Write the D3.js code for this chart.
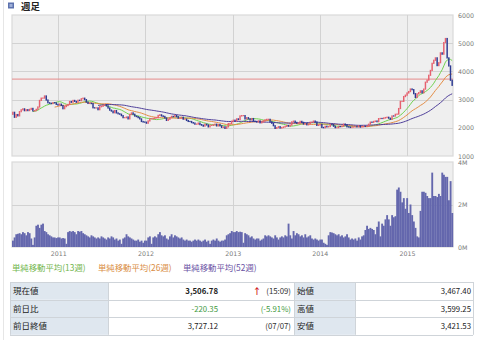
<!DOCTYPE html>
<html><head><meta charset="utf-8">
<script src="https://cdn.jsdelivr.net/npm/d3@7"></script>
<style>
body{margin:0;background:#fff;}
svg{display:block;}
.cjk{font-family:"Noto Sans CJK JP","DejaVu Sans",sans-serif;}
.ax text{font-family:"DejaVu Sans",sans-serif;font-size:6.3px;fill:#7a7a7a;}
</style>
</head><body>
<svg id="c" width="480" height="340"></svg>
<script>
// Weekly closes of the index, one array per calendar year (first bar: week of 2010-06-21)
const firstWeek = "2010-06-21";
const firstOpen = 2480;
const close2010 = [2550,2373,2470,2424,2573,2638,2672,2606,2642,2610,2655,2688,2598,2610,2655,2738,2971,3051,3054,3129,2985,2888,2871,2858,2892,2884,2833,2808];
const close2011 = [2839,2791,2677,2752,2790,2828,2932,2905,2971,2937,2906,2977,2967,3030,3050,2999,2911,2864,2872,2858,2710,2705,2705,2642,2746,2762,2795,2820,2777,2701,2626,2593,2534,2612,2528,2497,2482,2431,2359,2359,2383,2317,2473,2528,2481,2416,2397,2360,2315,2224,2205,2199];
const close2012 = [2163,2244,2319,2319,2330,2351,2357,2439,2460,2421,2404,2349,2262,2302,2359,2406,2396,2438,2394,2344,2350,2373,2306,2306,2260,2225,2224,2185,2168,2128,2132,2168,2114,2092,2059,2127,2102,2033,2086,2086,2105,2128,2067,2117,2069,2015,2032,1980,2033,2150,2153,2234,2269];
const close2013 = [2242,2317,2291,2419,2432,2432,2314,2359,2318,2278,2328,2237,2225,2206,2244,2177,2205,2246,2283,2299,2300,2211,2162,2073,1979,2007,2039,1992,2010,2029,2052,2085,2057,2098,2212,2236,2191,2160,2174,2228,2193,2132,2149,2106,2135,2196,2196,2238,2204,2085,2101,2116];
const close2014 = [2013,2004,2054,2033,2044,2115,2113,2056,2004,2004,2047,2041,2058,2131,2097,2036,2027,2011,2026,2034,2039,2030,2070,2024,2036,2059,2047,2060,2126,2201,2194,2226,2240,2217,2326,2331,2329,2347,2364,2374,2341,2302,2420,2418,2478,2487,2683,2938,2938,3108,3157,3235];
const currentPrice = 3506.78;
const prevClose = 3727.12;
const dayChange = -220.35;
const dayChangePct = -5.91;
const close2015 = [3285,3376,3352,3210,3076,3203,3247,3310,3241,3372,3617,3691,3863,4034,4287,4394,4480,4206,4308,4657,4611,5023,5166,4478,4193,3686,currentPrice];

// Weekly volume (M)
const vol2010 = [0.3,0.45,0.6,0.62,0.65,0.6,0.7,0.65,0.55,0.7,0.65,0.4,0.1,0.45,1.0,1.05,0.9,1.05,1.1,0.75,0.7,0.6,0.55,0.5,0.45,0.45,0.42,0.45];
const vol2011 = [0.45,0.4,0.42,0.4,0.15,0.7,0.75,0.72,0.75,0.7,0.6,0.75,0.72,0.75,0.65,0.6,0.55,0.5,0.45,0.55,0.5,0.45,0.4,0.45,0.4,0.5,0.45,0.4,0.35,0.45,0.4,0.5,0.45,0.35,0.4,0.3,0.35,0.15,0.4,0.45,0.6,0.5,0.45,0.4,0.35,0.3,0.3,0.35,0.25,0.3,0.2,0.3];
const vol2012 = [0.3,0.45,0.5,0.15,0.45,0.5,0.45,0.6,0.7,0.55,0.5,0.55,0.4,0.35,0.5,0.6,0.45,0.55,0.5,0.45,0.4,0.45,0.35,0.3,0.35,0.3,0.3,0.25,0.3,0.35,0.3,0.35,0.3,0.25,0.3,0.35,0.25,0.3,0.15,0.3,0.35,0.3,0.4,0.3,0.25,0.3,0.3,0.35,0.55,0.6,0.65,0.75,0.7];
const vol2013 = [0.7,0.75,0.7,0.72,0.7,0.2,0.65,0.6,0.55,0.45,0.5,0.4,0.35,0.4,0.4,0.3,0.35,0.4,0.55,0.5,0.55,0.5,0.45,0.4,0.55,0.45,0.35,0.45,0.5,0.45,0.55,0.5,1.1,0.55,0.4,0.75,0.55,0.65,0.6,0.5,0.55,0.45,0.6,0.45,0.5,0.55,0.4,0.35,0.4,0.35,0.3,0.35];
const vol2014 = [0.35,0.2,0.15,0.1,0.55,0.7,0.68,0.65,0.6,0.55,0.6,0.5,0.55,0.45,0.5,0.6,0.45,0.35,0.4,0.35,0.4,0.3,0.45,0.35,0.5,0.55,0.8,1.0,0.85,0.9,0.85,0.8,0.6,0.95,1.2,0.5,1.1,1.0,1.3,1.5,1.3,1.0,1.5,1.4,1.45,2.7,2.8,2.6,2.1,2.3,1.8,2.3];
const vol2015 = [1.6,2.0,1.5,1.2,0.9,0.5,0.45,1.7,2.6,2.6,2.55,2.4,2.3,2.3,3.5,2.4,2.4,2.35,2.5,2.4,3.5,3.4,3.3,3.3,2.2,3.1,1.6];

const priceTicks = [1000,2000,3000,4000,5000,6000];
const volumeTicks = [0,2,4];
const yearTicks = ["2011-01-01","2012-01-01","2013-01-01","2014-01-01","2015-01-01"];
const maPeriods = [13,26,52];
const maColors = ["#6fd24f","#e48d45","#4f3f9a"];
const legendLabels = ["単純移動平均(13週)","単純移動平均(26週)","単純移動平均(52週)"];
const legendColors = ["#71b54c","#d98c42","#6a52a4"];

const tableLeftLabels = ["現在値","前日比","前日終値"];
const quoteTime = "15:09";
const prevDate = "07/07";
const tableRightLabels = ["始値","高値","安値"];
const tableRightValues = [3467.40,3599.25,3421.53];

// ---------------------------------------------------------------
const svg = d3.select("#c");
const parse = d3.timeParse("%Y-%m-%d");
const closes = [].concat(close2010,close2011,close2012,close2013,close2014,close2015);
const volumes = [].concat(vol2010,vol2011,vol2012,vol2013,vol2014,vol2015);
const start = parse(firstWeek);
const weeks = closes.map((c,i)=>({
  date: d3.timeDay.offset(start, 7*i),
  next: d3.timeDay.offset(start, 7*(i+1)),
  open: i ? closes[i-1] : firstOpen,
  close: c,
  vol: volumes[i]
}));

const L = 12, R = 453;
const x = d3.scaleTime().domain([start, d3.timeDay.offset(start, 7*weeks.length)]).range([L, R]);
const y = d3.scaleLinear().domain([1000,6000]).range([156,15]);
const yv = d3.scaleLinear().domain([0,4]).range([247,162]);
const years = yearTicks.map(parse);

// page edge
svg.append("line").attr("x1",3.5).attr("x2",3.5).attr("y1",0).attr("y2",340).attr("stroke","#e6e6e6");

// title
const ic = svg.append("g");
ic.append("rect").attr("x",8).attr("y",2.5).attr("width",6).attr("height",6).attr("fill","#5d72ae");
ic.append("rect").attr("x",9.5).attr("y",4).attr("width",3).attr("height",3).attr("fill","#9fb0d8");
svg.append("text").attr("class","cjk").attr("x",21).attr("y",10.2).attr("font-size",9.4).attr("font-weight","bold").attr("fill","#222").text("週足");

function panel(y0,y1){
  svg.append("rect").attr("x",L).attr("y",y0).attr("width",R-L).attr("height",y1-y0)
    .attr("fill","#efefef").attr("stroke","#d9d9d9").attr("stroke-width",1.2);
  svg.append("g").selectAll("line").data(years).join("line")
    .attr("x1",d=>Math.round(x(d))+0.5).attr("x2",d=>Math.round(x(d))+0.5)
    .attr("y1",y0).attr("y2",y1).attr("stroke","#d2d2d2");
}
panel(15,156);
panel(162,247);

svg.append("g").selectAll("line").data(priceTicks.slice(1,-1)).join("line")
  .attr("x1",L).attr("x2",R).attr("y1",d=>Math.round(y(d))+0.5).attr("y2",d=>Math.round(y(d))+0.5)
  .attr("stroke","#d2d2d2");
svg.append("line").attr("x1",L).attr("x2",R).attr("y1",Math.round(yv(2))+0.5).attr("y2",Math.round(yv(2))+0.5).attr("stroke","#d2d2d2");

// previous close line
svg.append("line").attr("x1",L).attr("x2",R).attr("y1",y(prevClose)).attr("y2",y(prevClose))
  .attr("stroke","#e58a8a").attr("stroke-width",1);

// moving averages
const maG = svg.append("g");
maPeriods.forEach((n,k)=>{
  const pts = weeks.map((w,i)=> i>=n-1 ? {date:w.date, next:w.next, v:d3.mean(closes.slice(i-n+1,i+1))} : null).filter(Boolean);
  maG.append("path").datum(pts)
    .attr("d", d3.line().x(d=>(x(d.date)+x(d.next))/2).y(d=>y(d.v)))
    .attr("fill","none").attr("stroke",maColors[k]).attr("stroke-width",1);
});

// candles
svg.append("g").selectAll("rect").data(weeks).join("rect")
  .attr("x",d=>x(d.date)+0.1)
  .attr("width",d=>x(d.next)-x(d.date)-0.2)
  .attr("y",d=>y(Math.max(d.open,d.close))-0.6)
  .attr("height",d=>Math.abs(y(d.open)-y(d.close))+1.2)
  .attr("fill",d=>d.close>=d.open ? "#e6616f" : "#2d3a92");

// volume
svg.append("g").selectAll("rect").data(weeks).join("rect")
  .attr("x",d=>x(d.date))
  .attr("width",d=>x(d.next)-x(d.date)+0.2)
  .attr("y",d=>yv(d.vol))
  .attr("height",d=>yv(0)-yv(d.vol))
  .attr("fill","#6467ad");

// axes
svg.append("g").attr("class","ax").attr("transform",`translate(${R},0)`)
  .call(d3.axisRight(y).tickValues(priceTicks).tickSize(0).tickPadding(5).tickFormat(d3.format("d")))
  .call(g=>g.select(".domain").remove());
svg.append("g").attr("class","ax").attr("transform",`translate(${R},0)`)
  .call(d3.axisRight(yv).tickValues(volumeTicks).tickSize(0).tickPadding(5).tickFormat(d=>d+"M"))
  .call(g=>g.select(".domain").remove());
svg.append("g").attr("class","ax").attr("transform","translate(0,247)")
  .call(d3.axisBottom(x).tickValues(years).tickSize(0).tickPadding(5).tickFormat(d3.timeFormat("%Y")))
  .call(g=>g.select(".domain").remove());

// legend
const lgX = [12,98,183];
svg.append("g").selectAll("text").data(legendLabels).join("text")
  .attr("class","cjk").attr("x",(d,i)=>lgX[i]).attr("y",271).attr("font-size",8.4)
  .attr("fill",(d,i)=>legendColors[i]).text(d=>d);

// quote table
const fmt = d3.format(",.2f");
const tableLeftValues = [fmt(currentPrice), dayChange.toFixed(2), fmt(prevClose)];
const tableNotes = [`(${quoteTime})`, `(${dayChangePct.toFixed(2)}%)`, `(${prevDate})`];
const rowTop = 282, rowH = 17.6;
const cols = [10,108,294,355,473];
const tg = svg.append("g").attr("class","cjk");
for(let r=0;r<3;r++){
  const ty = rowTop + r*rowH;
  [[0,1],[2,3]].forEach(([a,b])=>{
    tg.append("rect").attr("x",cols[a]).attr("y",ty).attr("width",cols[b]-cols[a]).attr("height",rowH).attr("fill","#dfe7ef");
  });
}
tg.append("g").selectAll("line").data(d3.range(4)).join("line")
  .attr("x1",cols[0]).attr("x2",cols[4]).attr("y1",d=>Math.round(rowTop+d*rowH)+0.5).attr("y2",d=>Math.round(rowTop+d*rowH)+0.5)
  .attr("stroke","#cfd4d9");
tg.append("g").selectAll("line").data(cols).join("line")
  .attr("x1",d=>d+0.5).attr("x2",d=>d+0.5).attr("y1",rowTop).attr("y2",rowTop+3*rowH).attr("stroke","#cfd4d9");

const base = r => rowTop + r*rowH + rowH/2 + 3.2;
tableLeftLabels.forEach((t,r)=>tg.append("text").attr("x",13).attr("y",base(r)).attr("font-size",8.5).attr("fill","#222").text(t));
tableRightLabels.forEach((t,r)=>tg.append("text").attr("x",297).attr("y",base(r)).attr("font-size",8.5).attr("fill","#222").text(t));
tableLeftValues.forEach((t,r)=>tg.append("text").attr("x",218).attr("y",base(r)).attr("text-anchor","end")
  .attr("font-size",7.8).attr("font-weight",r===0?"bold":"normal").attr("fill",r===1?"#3f9a3f":"#222").text(t));
tableNotes.forEach((t,r)=>tg.append("text").attr("x",291).attr("y",base(r)).attr("text-anchor","end")
  .attr("font-size",7.8).attr("fill",r===1?"#3f9a3f":"#333").text(t));
tableRightValues.forEach((v,r)=>tg.append("text").attr("x",471).attr("y",base(r)).attr("text-anchor","end")
  .attr("font-size",7.8).attr("fill","#222").text(fmt(v)));
// up-arrow marker beside the time
tg.append("text").attr("x",257).attr("y",base(0)).attr("text-anchor","middle").attr("font-size",8.5).attr("font-weight","bold").attr("fill","#d02020").text("↑");
</script>
</body></html>
